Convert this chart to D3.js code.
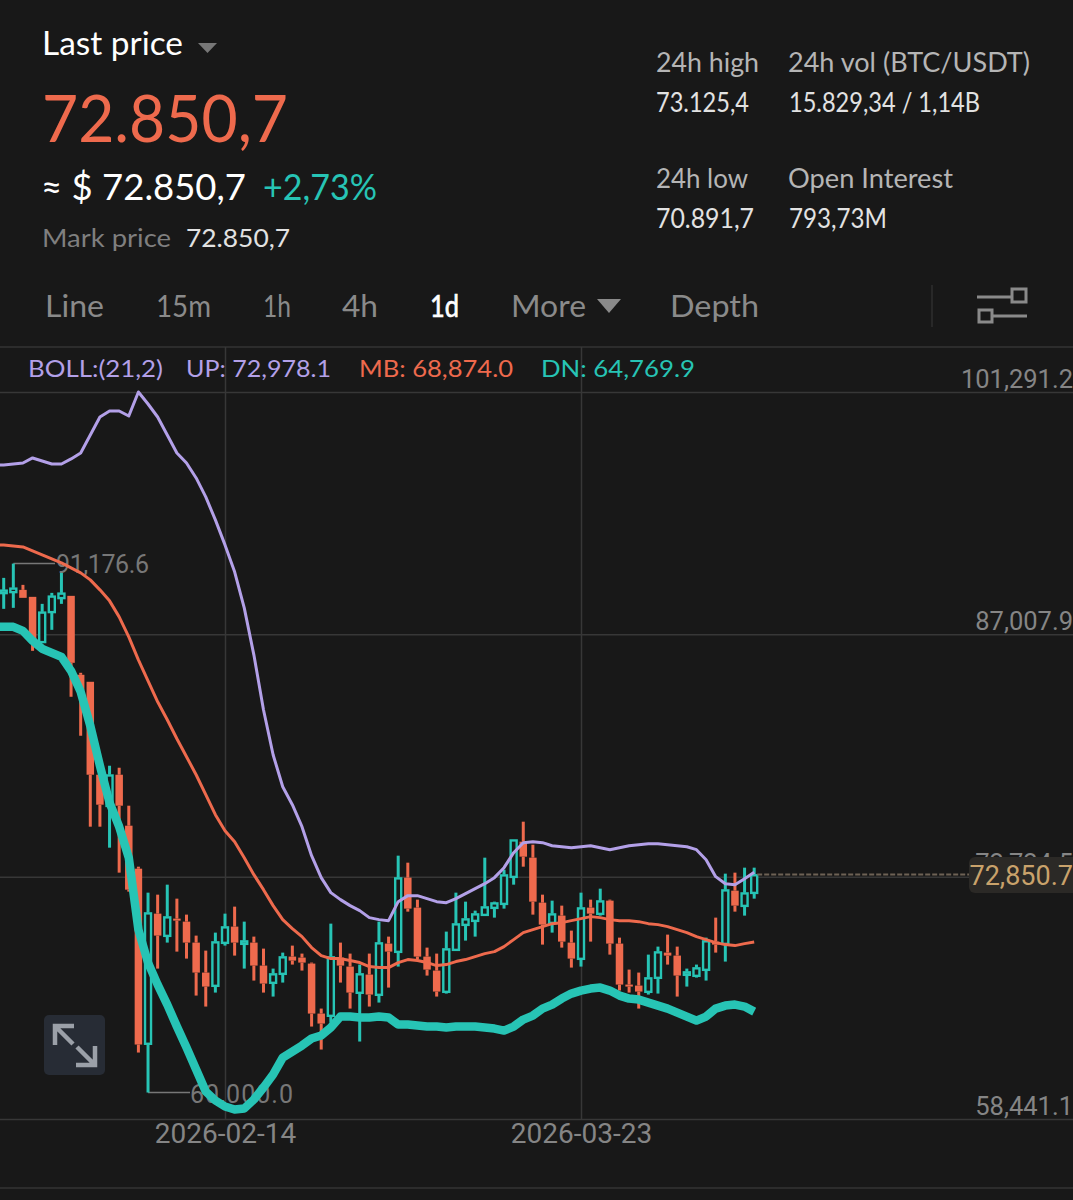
<!DOCTYPE html>
<html><head><meta charset="utf-8">
<script src="https://cdn.jsdelivr.net/npm/d3@7/dist/d3.min.js"></script>
<style>html,body{margin:0;padding:0;background:#181818}svg{display:block}</style>
</head><body><svg id="c" width="1073" height="1200"></svg>
<script>
const priceTicks=[101291.2,87007.9,72724.5,58441.1];
const dateTicks=["2026-02-14","2026-03-23"];
const firstCandleDate="2026-01-22";
const firstLineDate="2026-01-21";
const highs=[90336,91176.6,89923,89217,88804,89452,90631,89276,84741,84211,78733,79263,79145,76907,73313,71782,71664,72253,71429,70487,69250,68366,69427,70545,70958,70074,69191,68484,67306,68248,68661,68190,67660,64950,69956,68838,68190,67542,68190,70074,69191,73962,73549,71370,68543,68190,69486,71782,71252,70722,73844,71252,73137,74904,75965,74609,71664,71311,71017,69545,71782,71370,72018,71370,69132,67247,67071,68130,68602,69309,68602,67306,67542,69132,70310,72902,72961,73255,73255];
const opens=[89393,89452,89629,89217,86507,88274,89099,89276,84623,84211,78733,76849,78733,75729,73195,62830,70545,69191,70251,70074,68838,67071,66246,68779,69780,68720,68838,67483,66423,66953,68013,67954,67601,64655,64479,67954,67424,65834,66953,65716,68779,68248,72666,70899,68013,67189,65892,68366,69839,70074,70428,70840,71075,72666,74786,73844,71193,69956,70428,68838,67837,70899,70487,71311,68779,66364,66305,65892,66717,68248,68072,66894,66835,67189,68897,68720,71900,70958,71723];
const closes=[89629,89747,89158,86684,88333,89276,89452,85329,83739,78733,76966,78733,76907,71959,62830,70604,69250,70369,70133,68838,67071,66246,68897,69780,68838,68956,67483,66423,67012,68013,67778,67660,64655,64066,68013,67483,65892,67012,65775,68838,68307,72666,70840,68013,67247,65951,68484,69956,70251,70545,70958,71193,72843,74904,73903,71252,69898,70545,68897,67895,70899,70545,71311,68779,66364,66246,65951,66776,68307,68072,66894,67130,67365,68956,68720,71959,71017,71782,72850.7];
const lows=[88510,88569,89158,86036,86507,87273,88804,83327,81030,75670,75670,74433,72961,71841,62358,60000,67306,68838,68307,67895,65716,65068,65892,68661,68072,67306,66600,65892,65657,66482,67542,67189,63890,62535,64125,66482,64950,63007,65068,65303,66187,67424,70663,67837,66894,65657,65834,68366,68956,69191,70428,70310,70840,72253,73313,70487,68720,69427,68543,67365,67424,68897,70428,68130,66011,65892,64950,65775,65834,67542,65657,66246,66776,66600,68248,67719,70663,70428,71429];
const bollUp=[96991,96991,97050,97109,97404,97227,97050,97050,97345,97698,98758,99818,100172,100172,99877,101291,100584,99818,98758,97698,97109,96226,95107,93752,92280,90690,88569,85800,82561,79910,78026,76966,75670,73962,72666,71782,71370,71017,70722,70310,70192,70133,71252,71606,71606,71429,71252,71193,71429,71723,72018,72312,72666,73255,74138,74727,74786,74727,74550,74491,74433,74491,74550,74433,74315,74433,74550,74609,74668,74668,74609,74550,74491,74315,73726,72725,72312,72253,72607,72978.1];
const bollMid=[92280,92280,92221,92162,91926,91691,91455,91219,90925,90631,90218,89629,88981,88038,86861,85506,84270,83032,81972,80853,79793,78733,77555,76377,75435,74786,73844,72843,71959,71017,70192,69662,69191,68543,68072,67895,67895,67778,67660,67424,67365,67365,67660,67837,67778,67660,67483,67542,67719,67837,68013,68190,68307,68602,69014,69427,69603,69780,69956,70015,70133,70251,70369,70310,70192,70133,70133,70074,69956,69898,69780,69603,69427,69191,69014,68838,68720,68661,68779,68874];
const bollDn=[87450,87450,87450,87214,86625,86154,85919,85683,84858,83621,81619,79263,77084,75670,73844,69603,67660,66364,65185,63890,62653,61358,60062,59531,59178,59001,59060,59590,60297,61063,62064,62417,62771,63183,63360,63831,64479,64479,64420,64420,64479,64420,64008,64008,63949,63890,63890,63831,63890,63890,63890,63831,63772,63654,63890,64302,64538,64950,65185,65539,65834,66011,66128,66187,66011,65716,65539,65480,65303,65126,64950,64714,64479,64243,64479,64950,65126,65185,65067,64769.9];
const headerTexts=[
 ["Last price",42,55,33,"#ffffff",141,400],
 ["72.850,7",42,142,66,"#ee6a4d",246,400],
 ["≈ $ 72.850,7",41,200,36,"#ffffff",205,400],
 ["+2,73%",263,200,36,"#27c4b5",114,400],
 ["Mark price",42,247,25,"#7f7f7f",129,400],
 ["72.850,7",186,247,25,"#e2e2e2",104,400],
 ["24h high",656,72,26,"#b5b5b5",103,400],
 ["24h vol (BTC/USDT)",788,72,26,"#b5b5b5",242,400],
 ["73.125,4",656,112,26,"#e2e2e2",93,400],
 ["15.829,34 / 1,14B",789,112,26,"#e2e2e2",191,400],
 ["24h low",656,188,26,"#b5b5b5",92,400],
 ["Open Interest",788,188,26,"#b5b5b5",165,400],
 ["70.891,7",656,228,26,"#e2e2e2",98,400],
 ["793,73M",789,228,26,"#e2e2e2",98,400],
 ["Line",45,317,31,"#8a8a8a",59,400],
 ["15m",156,317,31,"#8a8a8a",55,400],
 ["1h",263,317,31,"#8a8a8a",28,400],
 ["4h",342,317,31,"#8a8a8a",36,400],
 ["1d",430,317,31,"#ffffff",29,400],
 ["More",511,317,31,"#8a8a8a",75,400],
 ["Depth",670,317,31,"#8a8a8a",89,400],
 ["BOLL:(21,2)",28,377,24,"#b3a0e8",135,400],
 ["UP: 72,978.1",186,377,24,"#b3a0e8",145,400],
 ["MB: 68,874.0",359,377,24,"#ee6a4d",154,400],
 ["DN: 64,769.9",541,377,24,"#27c4b5",154,400]
];
const BG="#181818",UP="#27c4b5",DOWN="#ee6a4d",PURPLE="#b3a0e8",GRID="#373737",AX="#858585";
const FONT="Lato, sans-serif";
const svg=d3.select("#c").attr("font-family",FONT);
svg.append("rect").attr("width",1073).attr("height",1200).attr("fill",BG);
const parse=d3.utcParse("%Y-%m-%d");
const x=d3.scaleUtc().domain([parse(dateTicks[0]),parse(dateTicks[1])]).range([225,581]);
const y=d3.scaleLinear().domain([priceTicks[3],priceTicks[0]]).range([1119,392]);
const candleDates=highs.map((_,i)=>d3.utcDay.offset(parse(firstCandleDate),i));
const lineDates=bollUp.map((_,i)=>d3.utcDay.offset(parse(firstLineDate),i));
// frame lines
[347,1188].forEach(v=>svg.append("line").attr("x1",0).attr("x2",1073).attr("y1",v).attr("y2",v).attr("stroke","#333").attr("stroke-width",1.5));
svg.append("line").attr("x1",932).attr("x2",932).attr("y1",285).attr("y2",327).attr("stroke","#2e2e2e").attr("stroke-width",1.5);
// axes
const yAxis=svg.append("g").attr("transform","translate(1073,0)").call(d3.axisLeft(y).tickValues(priceTicks).tickSize(1073).tickFormat(d3.format(",.1f")));
yAxis.select(".domain").remove();
yAxis.selectAll("line").attr("stroke",GRID).attr("stroke-width",1.5);
yAxis.selectAll("text").attr("x",0).attr("dy",0).attr("y",-5).attr("text-anchor","end").attr("fill",AX).attr("font-size",25.5).attr("font-family","Roboto, sans-serif");
const xAxis=svg.append("g").attr("transform","translate(0,1119)").call(d3.axisBottom(x).tickValues(dateTicks.map(parse)).tickSize(-772).tickFormat(d3.utcFormat("%Y-%m-%d")));
xAxis.select(".domain").remove();
xAxis.selectAll("line").attr("stroke",GRID).attr("stroke-width",1.5);
xAxis.selectAll("text").attr("y",24).attr("dy",0).attr("text-anchor","middle").attr("fill",AX).attr("font-size",28).attr("font-family","Roboto, sans-serif");
// texts
headerTexts.forEach(d=>{svg.append("text").attr("x",d[1]).attr("y",d[2]).attr("font-size",d[3]).attr("fill",d[4]).attr("font-weight",d[6]).attr("textLength",d[5]).attr("lengthAdjust","spacingAndGlyphs").attr("stroke",d[0]==="1d"?"#ffffff":"none").attr("stroke-width",d[0]==="1d"?0.7:0).text(d[0]);});
svg.append("path").attr("d","M198,43H217L207.5,53Z").attr("fill","#777");
svg.append("path").attr("d","M597,299H621L609,313Z").attr("fill","#8a8a8a");
// settings icon
const ic=svg.append("g").attr("stroke","#8a8a8a").attr("stroke-width",3).attr("fill","none");
ic.append("path").attr("d","M977,297H1011M1012,289H1026V302H1012ZM993,316H1027M979,310H992V322H979Z");
// expand button
svg.append("rect").attr("x",44).attr("y",1015).attr("width",61).attr("height",60).attr("rx",5).attr("fill","#272c35");
svg.append("path").attr("d","M55,1045V1026H74M56,1027L73,1044M76,1065H95V1046M94,1064L77,1047").attr("stroke","#9ba0a8").attr("stroke-width",4.5).attr("fill","none");
// callouts
const loI=lows.indexOf(d3.min(lows));
svg.append("path").attr("d",`M${x(candleDates[1])},${y(highs[1])}H55M${x(candleDates[loI])},${y(lows[loI])}H190`).attr("stroke","#777").attr("stroke-width",1.5).attr("fill","none");
svg.append("text").attr("x",56).attr("y",573).attr("font-size",25).attr("fill","#777").attr("font-family","Roboto, sans-serif").attr("textLength",93).text(d3.format(",.1f")(highs[1]));
svg.append("text").attr("x",190).attr("y",1103).attr("font-size",25).attr("fill","#777").attr("font-family","Roboto, sans-serif").attr("textLength",103).text(d3.format(",.1f")(lows[loI]));
// candles
const bodyW=7.5;
const g=svg.append("g");
const candles=g.selectAll("g").data(d3.range(highs.length)).join("g");
candles.each(function(i){
  const s=d3.select(this),up=closes[i]>=opens[i],col=up?UP:DOWN,cx=x(candleDates[i]);
  const top=y(Math.max(opens[i],closes[i])),bot=y(Math.min(opens[i],closes[i]));
  s.append("line").attr("x1",cx).attr("x2",cx).attr("y1",y(highs[i])).attr("y2",top).attr("stroke",col).attr("stroke-width",3);
  s.append("line").attr("x1",cx).attr("x2",cx).attr("y1",bot).attr("y2",y(lows[i])).attr("stroke",col).attr("stroke-width",3);
  if(up){
    s.append("rect").attr("x",cx-bodyW/2+.75).attr("y",top+.75).attr("width",bodyW-1.5).attr("height",Math.max(bot-top-1.5,.5)).attr("fill",BG).attr("stroke",col).attr("stroke-width",2.4);
  }else{
    s.append("rect").attr("x",cx-bodyW/2).attr("y",top).attr("width",bodyW).attr("height",Math.max(bot-top,2)).attr("fill",col);
  }
});
// BOLL lines
const line=d3.line().x((d,i)=>x(lineDates[i])).y(d=>y(d)).curve(d3.curveLinear);
[[bollUp,PURPLE,3],[bollMid,DOWN,3],[bollDn,UP,8.5]].forEach(([a,c,w])=>{
  svg.append("path").attr("d",line(a)).attr("fill","none").attr("stroke",c).attr("stroke-width",w).attr("stroke-linejoin","round");
});
// last price
const lastClose=closes[closes.length-1], ly=y(lastClose);
svg.append("line").attr("x1",x(candleDates[candleDates.length-1])+3).attr("x2",969).attr("y1",ly).attr("y2",ly).attr("stroke","#6e6255").attr("stroke-width",2).attr("stroke-dasharray","5 2");
svg.append("rect").attr("x",969).attr("y",857).attr("width",110).attr("height",36).attr("rx",6).attr("fill","#2b2926");
svg.append("text").attr("x",1073).attr("y",885).attr("text-anchor","end").attr("font-size",27).attr("fill","#c9a26b").attr("font-family","Roboto, sans-serif").text(d3.format(",.1f")(lastClose));
</script></body></html>
